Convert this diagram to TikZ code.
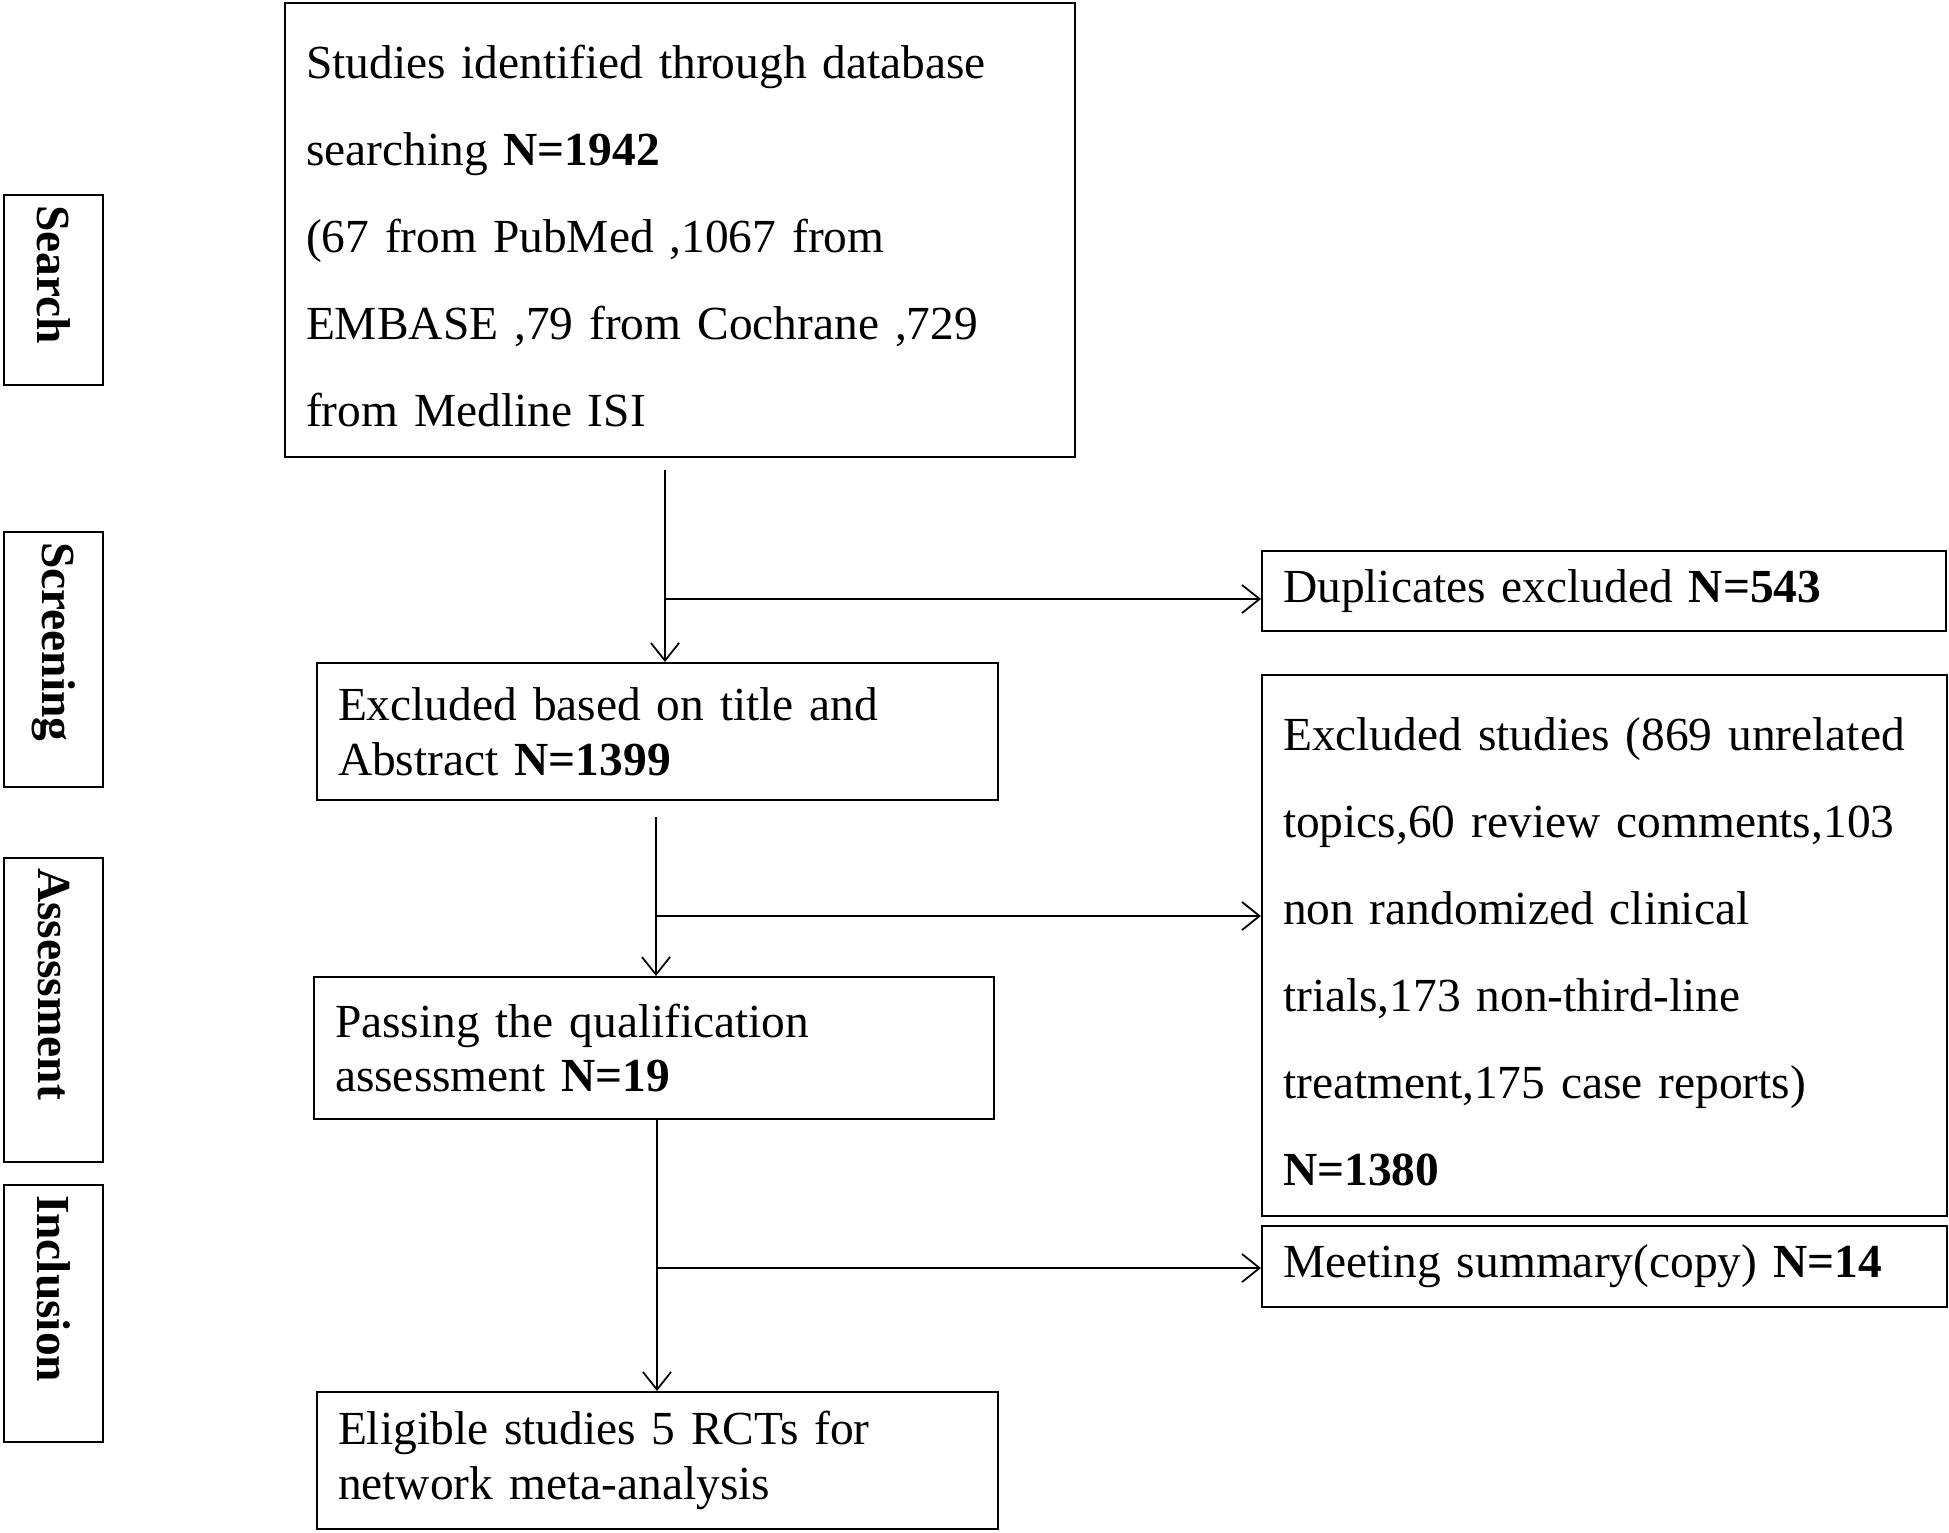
\documentclass[tikz,border=0pt]{standalone}
\usepackage{fontspec}
\setmainfont{Liberation Serif}
\usetikzlibrary{arrows.meta}

\newcommand\boxfont{\fontsize{13.5}{15.6}\selectfont}
\newcommand\listfont{\fontsize{13.5}{24.75}\selectfont}

\begin{document}
\begin{tikzpicture}[
    box/.style={draw, line width=0.6pt, inner xsep=0.21cm, inner ysep=0pt, align=left},
    phase/.style={draw, line width=0.6pt, rotate=-90, inner xsep=0.1cm, inner ysep=0pt,
      align=left, font=\fontsize{13.5}{16}\selectfont\bfseries},
    flow/.style={line width=0.5pt, -{Straight Barb[length=5pt,width=8pt]}}
  ]
  \useasboundingbox (0,0) rectangle (19.49,-15.32);

  % phases on the left
  \node[phase, text width=1.70cm, minimum height=0.99cm] (search) at (0.535,-2.90) {Search};
  \node[phase, text width=2.35cm, minimum height=0.99cm] (screening) at (0.535,-6.595) {Screening};
  \node[phase, text width=2.84cm, minimum height=0.99cm] (assessment) at (0.535,-10.10) {Assessment};
  \node[phase, text width=2.37cm, minimum height=0.99cm] (inclusion) at (0.535,-13.135) {Inclusion};

  % main column
  \node[box, font=\listfont, text width=7.48cm, minimum height=4.54cm] (records) at (6.80,-2.30)
    {\rule{0pt}{13pt}Studies identified through database\\
     searching \textbf{N=1942}\\
     (67 from PubMed ,1067 from\\
     EMBASE ,79 from Cochrane ,729\\
     from Medline ISI};
  \node[box, font=\boxfont, text width=6.39cm, minimum height=1.37cm] (title) at (6.575,-7.315)
    {Excluded based on title and\\ Abstract \textbf{N=1399}};
  \node[box, font=\boxfont, text width=6.38cm, minimum height=1.42cm] (passing) at (6.54,-10.48)
    {Passing the qualification\\ assessment \textbf{N=19}};
  \node[box, font=\boxfont, text width=6.39cm, minimum height=1.37cm] (eligible) at (6.575,-14.605)
    {Eligible studies 5 RCTs for\\ network meta-analysis};

  % exclusions on the right
  \node[box, font=\boxfont, text width=6.42cm, minimum height=0.80cm] (dup) at (16.04,-5.91)
    {Duplicates excluded \textbf{N=543}};
  \node[box, font=\listfont, text width=6.43cm, minimum height=5.41cm] (excl) at (16.045,-9.455)
    {\rule{0pt}{13pt}Excluded studies (869 unrelated\\
     topics,60 review comments,103\\
     non randomized clinical\\
     trials,173 non-third-line\\
     treatment,175 case reports)\\
     \textbf{N=1380}};
  \node[box, font=\boxfont, text width=6.43cm, minimum height=0.81cm] (meeting) at (16.045,-12.665)
    {Meeting summary(copy) \textbf{N=14}};

  % connectors
  \coordinate (s1) at (6.65,-4.70);
  \coordinate (b1) at (6.65,-5.99);
  \draw[flow] (s1) -- (s1 |- title.north);
  \draw[flow] (b1) -- (b1 -| dup.west);

  \coordinate (s2) at (6.56,-8.17);
  \coordinate (b2) at (6.56,-9.16);
  \draw[flow] (s2) -- (s2 |- passing.north);
  \draw[flow] (b2) -- (b2 -| excl.west);

  \coordinate (s3) at (6.57,-11.19);
  \coordinate (b3) at (6.57,-12.68);
  \draw[flow] (s3) -- (s3 |- eligible.north);
  \draw[flow] (b3) -- (b3 -| meeting.west);
\end{tikzpicture}
\end{document}
